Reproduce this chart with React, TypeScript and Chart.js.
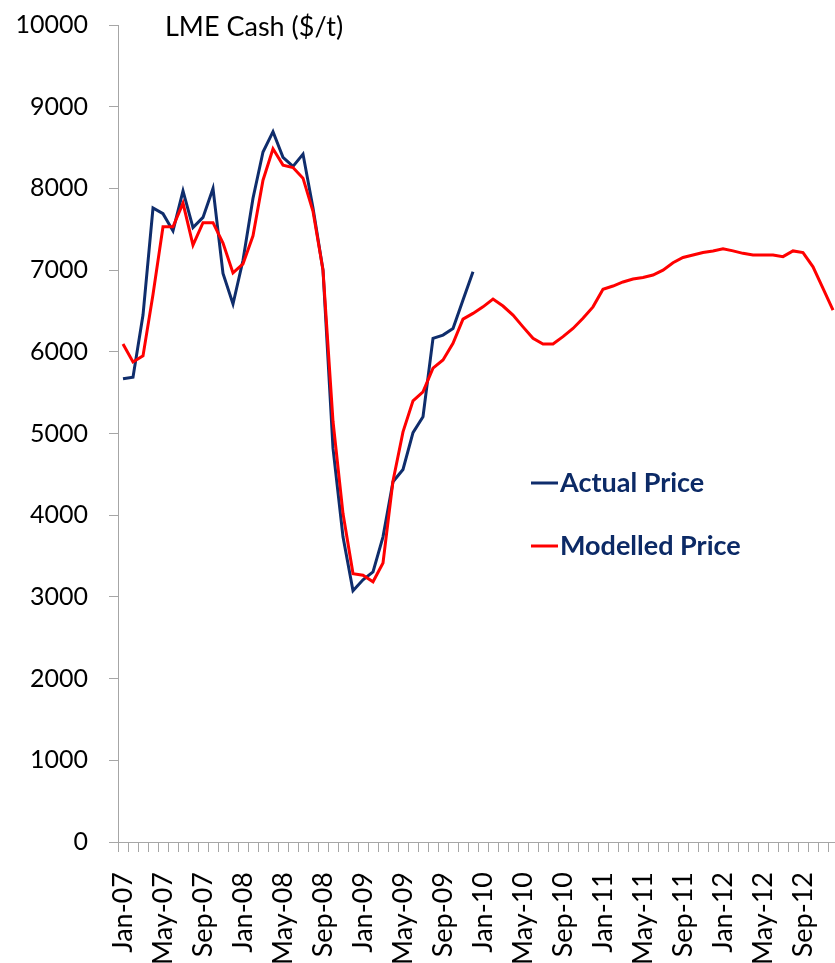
import React, { useEffect, useRef } from "react";
import { Chart, registerables } from "chart.js";

Chart.register(...registerables);

const MONTHS = ["Jan", "Feb", "Mar", "Apr", "May", "Jun", "Jul", "Aug", "Sep", "Oct", "Nov", "Dec"];
const YEARS = ["07", "08", "09", "10", "11", "12"];
const categories: string[] = YEARS.flatMap((y) => MONTHS.map((m) => `${m}-${y}`));

const TITLE = "LME Cash ($/t)";
const SERIES_NAMES = ["Actual Price", "Modelled Price"];

const actualPrice = [
  5670, 5690, 6450, 7760, 7690, 7480, 7970, 7520, 7645, 8000, 6960, 6585,
  7120, 7880, 8445, 8695, 8380, 8270, 8420, 7760, 7000, 4820, 3735, 3075,
  3210, 3305, 3735, 4410, 4560, 5010, 5205, 6165, 6205, 6285, 6635, 6980,
];

const modelledPrice = [
  6095, 5875, 5950, 6700, 7530, 7530, 7820, 7305, 7580, 7580, 7330, 6965,
  7075, 7420, 8100, 8485, 8285, 8255, 8125, 7720, 7000, 5150, 4020, 3285,
  3265, 3185, 3415, 4420, 5020, 5400, 5510, 5800, 5900, 6105, 6400, 6470,
  6550, 6645, 6560, 6450, 6305, 6165, 6095, 6095, 6185, 6285, 6410, 6550,
  6765, 6805, 6855, 6890, 6910, 6940, 7000, 7090, 7155, 7185, 7215, 7235,
  7260, 7235, 7205, 7185, 7185, 7185, 7165, 7235, 7215, 7040, 6775, 6510,
];

const Y_MIN = 0;
const Y_MAX = 10000;
const Y_STEP = 1000;
const LABEL_EVERY = 4;

const BLUE = "#0f2d6c";
const RED = "#ff0000";
const AXIS = "#a6a6a6";
const LEGEND_TEXT = "#0c2a66";
const FONT = "Lato, 'Open Sans', sans-serif";

const overlayPlugin = {
  id: "overlay",
  afterDatasetsDraw(chart: any) {
    const { ctx, chartArea } = chart;
    const L = chartArea.left;
    const T = chartArea.top;
    ctx.save();
    ctx.textBaseline = "alphabetic";
    ctx.textAlign = "left";
    ctx.fillStyle = "#000";
    ctx.font = `27px ${FONT}`;
    ctx.fillText(TITLE, L + 47, T + 11);

    const rows = [
      { y: T + 458, color: BLUE, label: SERIES_NAMES[0] },
      { y: T + 521, color: RED, label: SERIES_NAMES[1] },
    ];
    rows.forEach((r) => {
      ctx.strokeStyle = r.color;
      ctx.lineWidth = 3;
      ctx.beginPath();
      ctx.moveTo(L + 413, r.y);
      ctx.lineTo(L + 440, r.y);
      ctx.stroke();
      ctx.fillStyle = LEGEND_TEXT;
      ctx.font = `bold 27px ${FONT}`;
      ctx.fillText(r.label, L + 442, r.y + 9);
    });
    ctx.restore();
  },
};

const zeroPadding = (s: any) => {
  s.paddingLeft = 0;
  s.paddingRight = 0;
  s.paddingTop = 0;
  s.paddingBottom = 0;
};

export default function App() {
  const ref = useRef<HTMLCanvasElement | null>(null);

  useEffect(() => {
    if (!ref.current) return;
    const chart = new Chart(ref.current, {
      type: "line",
      data: {
        labels: categories,
        datasets: [
          {
            label: SERIES_NAMES[0],
            data: actualPrice,
            borderColor: BLUE,
            backgroundColor: BLUE,
            borderWidth: 3,
            pointRadius: 0,
            tension: 0,
            fill: false,
            order: 1,
          },
          {
            label: SERIES_NAMES[1],
            data: modelledPrice,
            borderColor: RED,
            backgroundColor: RED,
            borderWidth: 3,
            pointRadius: 0,
            tension: 0,
            fill: false,
            order: 0,
          },
        ],
      },
      options: {
        animation: false,
        responsive: false,
        layout: { padding: { top: 25, right: 7, left: 0, bottom: 0 } },
        plugins: {
          legend: { display: false },
          tooltip: { enabled: false },
          title: { display: false },
        },
        scales: {
          x: {
            type: "category",
            offset: true,
            grid: {
              display: true,
              drawOnChartArea: false,
              drawTicks: true,
              tickLength: 10,
              offset: true,
              color: AXIS,
            },
            border: { display: true, color: AXIS, width: 1 },
            ticks: {
              autoSkip: false,
              minRotation: 90,
              maxRotation: 90,
              padding: 20,
              color: "#000",
              font: { family: FONT, size: 27 },
              callback: (_v: any, i: number) => (i % LABEL_EVERY === 0 ? categories[i] : ""),
            },
            afterFit: (s: any) => {
              s.height = 121;
              zeroPadding(s);
            },
          },
          y: {
            min: Y_MIN,
            max: Y_MAX,
            grid: {
              display: true,
              drawOnChartArea: false,
              drawTicks: true,
              tickLength: 9,
              color: AXIS,
            },
            border: { display: true, color: AXIS, width: 1 },
            ticks: {
              stepSize: Y_STEP,
              padding: 21,
              color: "#000",
              font: { family: FONT, size: 25 },
              callback: (v: any) => String(v),
            },
            afterFit: (s: any) => {
              s.width = 118;
              zeroPadding(s);
            },
          },
        },
      },
      plugins: [overlayPlugin],
    });
    return () => chart.destroy();
  }, []);

  return (
    <div
      style={{
        position: "fixed",
        left: 0,
        top: 0,
        width: 835,
        height: 963,
        overflow: "hidden",
        background: "#fff",
      }}
    >
      <canvas ref={ref} width={845} height={963} style={{ display: "block", width: 845, height: 963 }} />
    </div>
  );
}
